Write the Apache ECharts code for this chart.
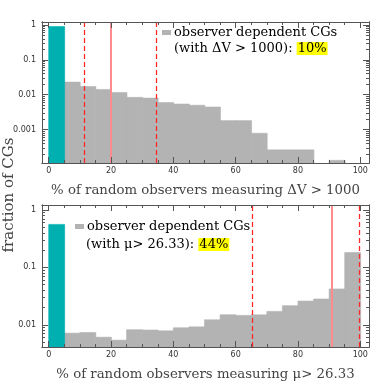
<!DOCTYPE html>
<html>
<head>
<meta charset="utf-8">
<script src="https://cdn.jsdelivr.net/npm/echarts@6/dist/echarts.min.js"></script>
<style>html,body{margin:0;padding:0;background:#fff}#c{width:389px;height:389px}</style>
</head>
<body>
<div id="c"></div>
<script>
// ---- data ----
const binStarts = [0,5,10,15,20,25,30,35,40,45,50,55,60,65,70,75,80,85,90,95];
const binWidth = 5;
// top panel: observer independent (teal) and dependent (gray) fractions
const topIndependent = [0.9];
const topDependent = [null,0.023,0.0173,0.0142,0.0116,0.0084,0.0080,0.0060,0.0054,0.0050,0.00444,0.00181,0.00181,0.000785,0.000262,0.000262,0.000262,0,0.000131,0];
const topLines = {dashed:[11.4,34.5], solid:[20]};
// bottom panel
const botIndependent = [0.56];
const botDependent = [null,0.00715,0.00734,0.00608,0.0054,0.0082,0.0081,0.00785,0.00887,0.0092,0.01222,0.01495,0.01456,0.0149,0.0171,0.0215,0.0259,0.0281,0.0421,0.1815];
const botLines = {dashed:[65.3,99.6], solid:[90.8]};
const xMajorTicks = [0,20,40,60,80,100];
const xMinorTicks = [5,10,15,25,30,35,45,50,55,65,70,75,85,90,95];
const topYLabels = [0.001,0.01,0.1,1];
const botYLabels = [0.01,0.1,1];
const topTitle = '% of random observers measuring ΔV > 1000';
const botTitle = '% of random observers measuring μ> 26.33';
const yTitle = 'fraction of CGs';
const legendLine1 = 'observer dependent CGs';
const topLegend2 = '(with ΔV > 1000): ';
const topPct = '10%';
const botLegend2 = '(with μ> 26.33): ';
const botPct = '44%';

// ---- layout ----
const X_MIN = -2.15, X_MAX = 102.8;
const TOP_YMIN = 1.1e-4, TOP_YMAX = 1.22;
const BOT_YMIN = 0.0041, BOT_YMAX = 1.22;
const TEAL = '#00b0b0', GRAY = '#b3b3b3', AX = '#555', TXT = '#444';
const SERIF = '"DejaVu Serif", serif';

function minorLog(lo, hi){
  const out=[];
  for(let e=Math.floor(Math.log10(lo)); e<=Math.ceil(Math.log10(hi)); e++){
    for(let m=2;m<=9;m++){const v=m*Math.pow(10,e); if(v>lo && v<hi) out.push(v);}
  }
  return out;
}
function fmtLog(v){ return String(+v.toPrecision(3)); }
function xAxes(grid, withLabel, name){
  const common = {type:'value', gridIndex:grid, min:X_MIN, max:X_MAX, z:5,
    splitLine:{show:false}, axisLine:{show:true, onZero:false, lineStyle:{color:AX,width:1}}};
  return [
    Object.assign({}, common, {position:'bottom', axisTick:{show:true,inside:true,length:6,lineStyle:{color:AX},customValues:xMajorTicks},
      axisLabel:{show:withLabel, customValues:xMajorTicks, fontSize:8, color:'#333', margin:4, fontFamily:'DejaVu Sans'},
      name:name, nameLocation:'middle', nameGap:21, nameTextStyle:{fontFamily:SERIF, fontSize:13.3, color:TXT}}),
    Object.assign({}, common, {position:'bottom', axisTick:{show:true,inside:true,length:3,lineStyle:{color:AX},customValues:xMinorTicks}, axisLabel:{show:false}}),
    Object.assign({}, common, {position:'top', axisTick:{show:true,inside:true,length:6,lineStyle:{color:AX},customValues:xMajorTicks}, axisLabel:{show:false}}),
    Object.assign({}, common, {position:'top', axisTick:{show:true,inside:true,length:3,lineStyle:{color:AX},customValues:xMinorTicks}, axisLabel:{show:false}})
  ];
}
function yAxes(grid, lo, hi, labels){
  const common = {type:'log', logBase:10, gridIndex:grid, min:lo, max:hi, z:5,
    splitLine:{show:false}, axisLine:{show:true, onZero:false, lineStyle:{color:AX,width:1}}};
  const minor = minorLog(lo, hi);
  return [
    Object.assign({}, common, {position:'left', axisTick:{show:true,inside:true,length:6,lineStyle:{color:AX},customValues:labels},
      axisLabel:{show:true, customValues:labels, formatter:fmtLog, fontSize:8, color:'#333', margin:6, fontFamily:'DejaVu Sans'}}),
    Object.assign({}, common, {position:'left', axisTick:{show:true,inside:true,length:3,lineStyle:{color:AX},customValues:minor}, axisLabel:{show:false}}),
    Object.assign({}, common, {position:'right', axisTick:{show:true,inside:true,length:6,lineStyle:{color:AX},customValues:labels}, axisLabel:{show:false}}),
    Object.assign({}, common, {position:'right', axisTick:{show:true,inside:true,length:3,lineStyle:{color:AX},customValues:minor}, axisLabel:{show:false}})
  ];
}
function barData(vals){
  const d=[];
  vals.forEach((v,i)=>{ if(v) d.push([binStarts[i], binStarts[i]+binWidth, v]); });
  return d;
}
function barSeries(xi, yi, vals, yMin, color, lines){
  const s = {type:'custom', xAxisIndex:xi, yAxisIndex:yi, data:barData(vals), z:2,
    encode:{x:[0,1], y:2},
    renderItem:function(params, api){
      const p0 = api.coord([api.value(0), api.value(2)]);
      const p1 = api.coord([api.value(1), yMin]);
      return {type:'rect', shape:{x:p0[0], y:p0[1], width:p1[0]-p0[0]+0.4, height:p1[1]-p0[1]},
        style:{fill:color, stroke:color, lineWidth:0.6}};
    }};
  if(lines){
    s.markLine = {silent:true, symbol:['none','none'], label:{show:false}, animation:false,
      data: lines.dashed.map(v=>({xAxis:v, lineStyle:{color:'#ff2a2a', width:1.3, type:[5,3]}}))
        .concat(lines.solid.map(v=>({xAxis:v, lineStyle:{color:'#ff8c8c', width:2, type:'solid'}})))};
  }
  return s;
}

const chart = echarts.init(document.getElementById('c'), null, {renderer:'canvas'});
const legendRich = {
  sq:{width:9, height:5, backgroundColor:GRAY},
  sp:{width:3},
  t:{fontFamily:SERIF, fontSize:13, color:TXT, lineHeight:14},
  hl:{fontFamily:SERIF, fontSize:13, color:TXT, backgroundColor:'#ffff00', lineHeight:14, padding:[0,1,0,1]}
};
chart.setOption({
  animation:false,
  grid:[{left:42, top:22, width:327, height:141},{left:42, top:205, width:327, height:142}],
  xAxis: xAxes(0, true, topTitle).concat(xAxes(1, true, botTitle)),
  yAxis: yAxes(0, TOP_YMIN, TOP_YMAX, topYLabels).concat(yAxes(1, BOT_YMIN, BOT_YMAX, botYLabels)),
  series:[
    barSeries(0,0, topDependent, TOP_YMIN, GRAY, null),
    barSeries(0,0, topIndependent, TOP_YMIN, TEAL, topLines),
    barSeries(4,4, botDependent, BOT_YMIN, GRAY, null),
    barSeries(4,4, botIndependent, BOT_YMIN, TEAL, botLines)
  ],
  graphic:[
    {type:'text', left:162, top:26, z:10, style:{rich:legendRich, text:'{sq|}{sp|}{t|'+legendLine1+'}'}},
    {type:'text', left:174, top:42, z:10, style:{rich:legendRich, text:'{t|'+topLegend2+'}{hl|'+topPct+'}'}},
    {type:'text', left:75, top:220, z:10, style:{rich:legendRich, text:'{sq|}{sp|}{t|'+legendLine1+'}'}},
    {type:'text', left:86, top:238, z:10, style:{rich:legendRich, text:'{t|'+botLegend2+'}{hl|'+botPct+'}'}},
    {type:'text', x:9, y:195, rotation:Math.PI/2, z:10, style:{text:yTitle, fontFamily:SERIF, fontSize:15, fill:TXT, align:'center', verticalAlign:'middle'}}
  ]
});
</script>
</body>
</html>
